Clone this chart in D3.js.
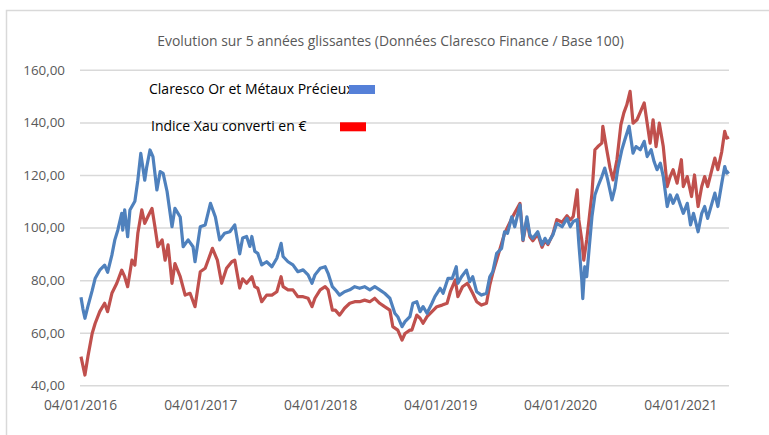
<!DOCTYPE html>
<html>
<head>
<meta charset="utf-8">
<script src="https://cdn.jsdelivr.net/npm/d3@7"></script>
<style>
  body { margin: 0; background: #fff; }
  text { font-family: "Open Sans", sans-serif; }
</style>
</head>
<body>
<div id="chart"></div>
<script>
// Data (base 100)
const title = "Evolution sur 5 années glissantes (Données Claresco Finance / Base 100)";
const seriesNames = ["Claresco Or et Métaux Précieux", "Indice Xau converti en €"];
const tickDates = ["2016-01-04", "2017-01-04", "2018-01-04", "2019-01-04", "2020-01-04", "2021-01-04"];
const yTicks = [40, 60, 80, 100, 120, 140, 160];
const dateRange = ["2016-01-04", "2021-06-01"];

// Claresco Or et Métaux Précieux
const claDates = [
  "2016-01-07","2016-01-13","2016-01-19","2016-01-28","2016-02-10","2016-02-19","2016-03-04","2016-03-19","2016-03-28","2016-04-10",
  "2016-04-19","2016-04-28","2016-05-10","2016-05-13","2016-05-19","2016-05-28","2016-06-04","2016-06-19","2016-06-28","2016-07-07",
  "2016-07-19","2016-07-25","2016-08-04","2016-08-13","2016-08-25","2016-09-04","2016-09-13","2016-09-25","2016-10-10","2016-10-19",
  "2016-11-04","2016-11-13","2016-11-28","2016-12-13","2016-12-19","2017-01-04","2017-01-19","2017-02-04","2017-02-19","2017-03-04",
  "2017-03-19","2017-04-04","2017-04-19","2017-05-04","2017-05-13","2017-05-25","2017-06-04","2017-06-10","2017-06-19","2017-06-28",
  "2017-07-10","2017-07-25","2017-08-10","2017-08-25","2017-09-07","2017-09-13","2017-09-28","2017-10-13","2017-10-28","2017-11-13",
  "2017-11-28","2017-12-10","2017-12-19","2018-01-04","2018-01-19","2018-01-28","2018-02-10","2018-02-19","2018-03-04","2018-03-19",
  "2018-04-04","2018-04-19","2018-05-04","2018-05-19","2018-06-04","2018-06-19","2018-07-04","2018-07-19","2018-08-04","2018-08-19",
  "2018-08-28","2018-09-10","2018-09-19","2018-10-04","2018-10-13","2018-10-25","2018-11-04","2018-11-13","2018-11-25","2018-12-10",
  "2018-12-19","2019-01-04","2019-01-13","2019-01-28","2019-02-10","2019-02-22","2019-02-27","2019-03-10","2019-03-25","2019-04-04",
  "2019-04-13","2019-04-25","2019-05-10","2019-05-25","2019-06-04","2019-06-13","2019-06-25","2019-07-10","2019-07-19","2019-07-28",
  "2019-08-10","2019-08-19","2019-09-04","2019-09-13","2019-09-25","2019-10-04","2019-10-13","2019-10-28","2019-11-10","2019-11-19",
  "2019-11-28","2019-12-13","2019-12-25","2020-01-10","2020-01-25","2020-02-04","2020-02-13","2020-02-25","2020-03-01","2020-03-10",
  "2020-03-13","2020-03-19","2020-03-25","2020-04-01","2020-04-10","2020-04-19","2020-04-28","2020-05-10","2020-05-19","2020-05-28",
  "2020-06-10","2020-06-19","2020-06-28","2020-07-10","2020-07-19","2020-08-01","2020-08-13","2020-08-22","2020-09-04","2020-09-16",
  "2020-09-25","2020-10-07","2020-10-16","2020-10-25","2020-11-04","2020-11-13","2020-11-25","2020-12-04","2020-12-13","2020-12-25",
  "2021-01-04","2021-01-13","2021-01-25","2021-02-04","2021-02-13","2021-02-27","2021-03-10","2021-03-19","2021-03-28","2021-04-10",
  "2021-04-19","2021-04-28","2021-05-10","2021-05-19","2021-05-25","2021-06-01"
];
const claValues = [
  73.5, 69, 65.5, 70, 76, 80.6, 83.8, 85.7, 83, 89.5,
  95.3, 99, 105.4, 99, 106.7, 96.5, 106.7, 110, 118, 128.2,
  118, 123, 129.5, 127, 114.3, 121.3, 120.6, 113.7, 100.3, 107.3,
  104, 92.7, 95.3, 92.7, 87, 100.3, 101, 109.2, 104, 95.3,
  97.8, 98.4, 101, 90, 96, 96.6, 92.8, 96.6, 90.9, 90.2,
  85.8, 87, 85.1, 88.3, 94, 89, 87, 85.8, 83.2, 83.9,
  82, 78.8, 82, 84.5, 85.1, 82.6, 77.5, 76.3, 74.3, 75.6,
  76.3, 77.5, 76.9, 77.5, 76.3, 77.5, 76.3, 75, 73.1, 67.4,
  66.1, 62.3, 64.2, 66.1, 71.2, 71.8, 68, 69.9, 67.4, 71.2,
  73.7, 76.9, 75, 80.7, 80.7, 85.1, 78.8, 81.3, 83.8, 79.4,
  81.3, 75.6, 74.3, 75, 81.3, 83.2, 90.2, 92.1, 98.4, 97.8,
  104.1, 100.3, 108.6, 95.3, 104.1, 97.2, 95.9, 98.4, 93.4, 95.9,
  94, 97.2, 101.6, 100.3, 103.5, 100.3, 102.3, 103, 94, 80,
  73, 85.1, 81.3, 91.4, 104.2, 112.4, 115.6, 119.4, 122.6, 118.1,
  110.5, 115, 122.6, 129.6, 133.4, 138.5, 128.3, 130.8, 129.6, 132.8,
  127, 129.6, 125.1, 122, 124.5, 119.4, 108, 112.4, 109.2, 112.4,
  108.6, 105.4, 109.2, 101, 105.4, 98.4, 105.4, 108, 103.5, 109.2,
  113.1, 108, 116.9, 123.2, 120.7, 121.3
];

// Indice Xau converti en €
const xauDates = [
  "2016-01-07","2016-01-19","2016-01-28","2016-02-10","2016-02-19","2016-03-04","2016-03-19","2016-03-28","2016-04-10","2016-04-25",
  "2016-05-10","2016-05-19","2016-05-28","2016-06-10","2016-06-19","2016-06-28","2016-07-10","2016-07-19","2016-07-28","2016-08-10",
  "2016-08-19","2016-08-28","2016-09-10","2016-09-19","2016-09-28","2016-10-10","2016-10-19","2016-11-04","2016-11-19","2016-12-04",
  "2016-12-19","2017-01-04","2017-01-19","2017-02-10","2017-02-25","2017-03-10","2017-03-25","2017-04-10","2017-04-19","2017-05-04",
  "2017-05-13","2017-05-25","2017-06-10","2017-06-19","2017-06-28","2017-07-10","2017-07-25","2017-08-10","2017-08-25","2017-09-07",
  "2017-09-13","2017-09-28","2017-10-13","2017-10-28","2017-11-13","2017-11-28","2017-12-10","2017-12-19","2018-01-04","2018-01-19",
  "2018-01-28","2018-02-10","2018-02-19","2018-03-04","2018-03-19","2018-04-04","2018-04-19","2018-05-04","2018-05-19","2018-06-04",
  "2018-06-19","2018-07-04","2018-07-19","2018-08-04","2018-08-13","2018-08-28","2018-09-10","2018-09-19","2018-10-04","2018-10-10",
  "2018-10-25","2018-11-04","2018-11-13","2018-11-25","2018-12-10","2018-12-25","2019-01-10","2019-01-25","2019-02-04","2019-02-19",
  "2019-02-27","2019-03-13","2019-03-28","2019-04-13","2019-04-25","2019-05-10","2019-05-25","2019-06-04","2019-06-13","2019-06-28",
  "2019-07-19","2019-08-10","2019-09-04","2019-09-13","2019-09-25","2019-10-04","2019-10-13","2019-10-28","2019-11-10","2019-11-19",
  "2019-11-28","2019-12-13","2019-12-25","2020-01-10","2020-01-25","2020-02-04","2020-02-13","2020-02-25","2020-03-01","2020-03-10",
  "2020-03-16","2020-03-25","2020-04-01","2020-04-10","2020-04-19","2020-04-28","2020-05-10","2020-05-13","2020-05-25","2020-06-04",
  "2020-06-13","2020-06-25","2020-07-07","2020-07-16","2020-07-25","2020-08-04","2020-08-13","2020-08-25","2020-09-07","2020-09-16",
  "2020-09-25","2020-10-04","2020-10-13","2020-10-22","2020-11-01","2020-11-13","2020-11-25","2020-12-04","2020-12-13","2020-12-25",
  "2021-01-07","2021-01-13","2021-01-25","2021-02-07","2021-02-16","2021-02-27","2021-03-10","2021-03-19","2021-03-28","2021-04-10",
  "2021-04-19","2021-04-28","2021-05-10","2021-05-19","2021-05-25","2021-06-01"
];
const xauValues = [
  50.9, 43.9, 50.9, 59.7, 63.5, 68, 71.2, 68, 75, 78.8,
  83.8, 81.3, 77.5, 87.6, 85.7, 97.8, 106.7, 101.6, 104, 107.3,
  100.3, 92.7, 95.3, 87.6, 93.4, 78.8, 86.3, 81.3, 74.3, 75,
  69.9, 83.2, 84.5, 92.1, 87.6, 78.8, 84.5, 87, 87.6, 77,
  80.5, 78.8, 81.3, 77.5, 76.9, 71.8, 74.3, 74.3, 75.6, 81.3,
  77.5, 76.3, 76.3, 73.7, 73.7, 73.1, 69.9, 73.1, 76.3, 77.5,
  76.3, 68.6, 68.6, 66.7, 69.3, 71.2, 71.8, 71.8, 72.4, 71.8,
  73.1, 71.2, 69.9, 68.6, 62.3, 61, 57.2, 59.7, 61, 61,
  66.7, 65.5, 63.6, 66.1, 68, 69.9, 70.5, 71.2, 75.6, 80.1,
  73.7, 77.5, 78.8, 75, 71.8, 70.5, 71.2, 78.1, 82.6, 88.9,
  97.8, 103.5, 109.2, 95, 103, 96.5, 95, 97.5, 92.5, 95,
  93.5, 97.5, 103, 102, 104.5, 102.9, 104.2, 114.3, 102.9, 95.3,
  87.6, 95.3, 102.9, 113, 129.6, 130.8, 132.1, 138.5, 129.6, 122.6,
  118.1, 125.8, 139.1, 143.6, 146.7, 151.8, 139.7, 141, 144.8, 147.4,
  139.7, 132.1, 141, 130.8, 139.7, 130.8, 115.6, 119.4, 122, 116.9,
  125.8, 115.6, 119.4, 111.8, 120, 108, 115.6, 119.4, 115.6, 122,
  126.4, 122, 128.9, 136.6, 134, 134.4
];

const width = 769, height = 435;
const parse = d3.timeParse("%Y-%m-%d");
const fr = d3.formatLocale({decimal: ",", thousands: " ", grouping: [3], currency: ["", " €"]});
const fmtY = fr.format(".2f");
const fmtX = d3.timeFormat("%d/%m/%Y");

const svg = d3.select("#chart")
  .append("svg")
    .attr("width", width)
    .attr("height", height);

// chart frame
svg.append("rect")
  .attr("x", 6.5).attr("y", 10.5)
  .attr("width", 770).attr("height", 440)
  .attr("fill", "#fff")
  .attr("stroke", "#d9d9d9")
  .attr("stroke-width", 1.5);

const x = d3.scaleTime()
  .domain(dateRange.map(parse))
  .range([80, 729]);
const y = d3.scaleLinear()
  .domain([40, 160])
  .range([385.3, 69.8]);

// gridlines + y labels
const yAxis = svg.append("g")
  .attr("transform", "translate(80,0)")
  .call(d3.axisLeft(y).tickValues(yTicks).tickSize(-(729 - 80)).tickPadding(15).tickFormat(fmtY));
yAxis.select(".domain").remove();
yAxis.selectAll("line").attr("stroke", "#d9d9d9").attr("stroke-width", 1.5);
yAxis.selectAll("text")
  .attr("fill", "#595959")
  .style("font-size", "13.4px");

// x labels
const xAxis = svg.append("g")
  .attr("transform", "translate(0,397)")
  .call(d3.axisBottom(x).tickValues(tickDates.map(parse)).tickSize(0).tickFormat(fmtX));
xAxis.select(".domain").remove();
xAxis.selectAll("text")
  .attr("fill", "#595959")
  .style("font-size", "13.8px");

// title
svg.append("text")
  .attr("x", 390.5).attr("y", 42)
  .attr("text-anchor", "middle")
  .attr("dominant-baseline", "middle")
  .attr("fill", "#595959")
  .style("font-size", "13.9px")
  .text(title);

// lines
const line = d3.line()
  .x(d => x(d[0]))
  .y(d => y(d[1]));
const xauData = xauDates.map((d, i) => [parse(d), xauValues[i]]);
const claData = claDates.map((d, i) => [parse(d), claValues[i]]);

svg.append("path")
  .datum(xauData)
  .attr("fill", "none")
  .attr("stroke", "#c0504d")
  .attr("stroke-width", 3.2)
  .attr("stroke-linejoin", "round")
  .attr("d", line);
svg.append("path")
  .datum(claData)
  .attr("fill", "none")
  .attr("stroke", "#4f81bd")
  .attr("stroke-width", 3.2)
  .attr("stroke-linejoin", "round")
  .attr("d", line);

// legend (text boxes with swatches)
const legend = [
  {name: seriesNames[0], tx: 149, ty: 90, sx: 349, sy: 85, color: "#5580d8"},
  {name: seriesNames[1], tx: 151, ty: 127, sx: 340, sy: 122.3, color: "#ff0000"}
];
const lg = svg.append("g")
  .selectAll("g")
  .data(legend)
  .join("g");
lg.append("text")
  .attr("x", d => d.tx).attr("y", d => d.ty)
  .attr("dominant-baseline", "middle")
  .attr("fill", "#000")
  .style("font-size", "14px")
  .text(d => d.name);
lg.append("rect")
  .attr("x", d => d.sx).attr("y", d => d.sy)
  .attr("width", 26).attr("height", 9)
  .attr("fill", d => d.color);
</script>
</body>
</html>
